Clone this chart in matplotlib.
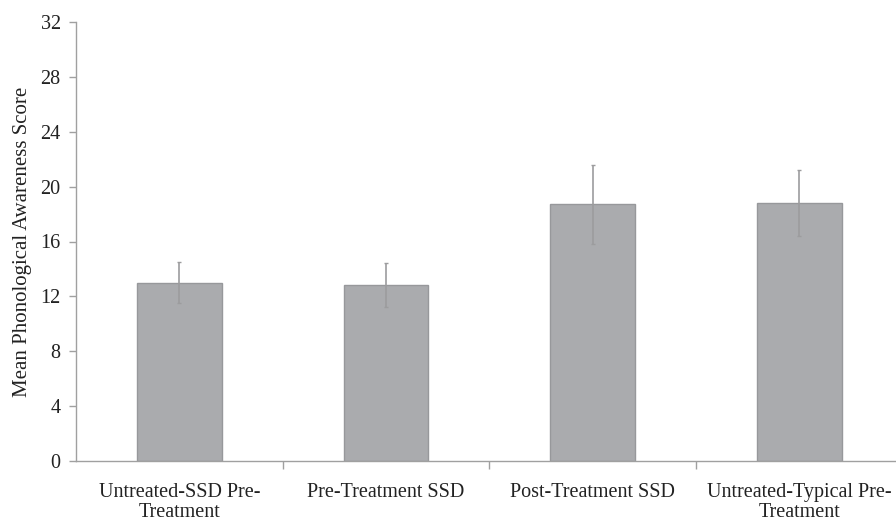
import matplotlib
matplotlib.use("Agg")
import matplotlib.pyplot as plt
import numpy as np

categories = ["Untreated-SSD Pre-\nTreatment", "Pre-Treatment SSD",
              "Post-Treatment SSD", "Untreated-Typical Pre-\nTreatment"]
means = [13.0, 12.8, 18.7, 18.8]
errors = [1.5, 1.6, 2.9, 2.4]
yticks = [0, 4, 8, 12, 16, 20, 24, 28, 32]

plt.rcParams['font.family'] = ['Liberation Serif', 'DejaVu Serif']

fig = plt.figure(figsize=(8.96, 5.22), dpi=100)
left_px, right_px = 76, 902.5
ax = fig.add_axes([left_px/896, 1-461/522, (right_px-left_px)/896, (461-22)/522])

x = np.arange(len(categories))
ax.bar(x, means, width=0.41, color="#aaabae", edgecolor="#97989b", linewidth=1.0, zorder=2)
ax.errorbar(x, means, yerr=errors, fmt="none", ecolor="#9c9c9e", elinewidth=1.2,
            capsize=1.5, capthick=1.0, zorder=3)

ax.set_xlim(-0.5, len(categories) - 0.5)
ax.set_ylim(0, 32)
ax.set_yticks(yticks)
ax.set_yticklabels([str(v) for v in yticks])

ax.set_xticks(x)
ax.set_xticklabels(categories, linespacing=1.05)
ax.tick_params(axis='x', length=0, pad=16, labelsize=14.5, colors="#222222")
ax.set_xticks(np.arange(0.5, len(categories) - 0.5, 1.0), minor=True)
ax.tick_params(axis='x', which='minor', length=6, width=1.0, color="#a0a0a0", direction="out")

ax.tick_params(axis='y', length=5, width=1.0, color="#a0a0a0", labelsize=14.5,
               labelcolor="#222222", pad=6)

for s in ["top", "right"]:
    ax.spines[s].set_visible(False)
for s in ["left", "bottom"]:
    ax.spines[s].set_color("#a0a0a0")
    ax.spines[s].set_linewidth(1.0)

ax.set_ylabel("Mean Phonological Awareness Score", fontsize=15, color="#222222", labelpad=6)

fig.savefig("out.png", dpi=100)
